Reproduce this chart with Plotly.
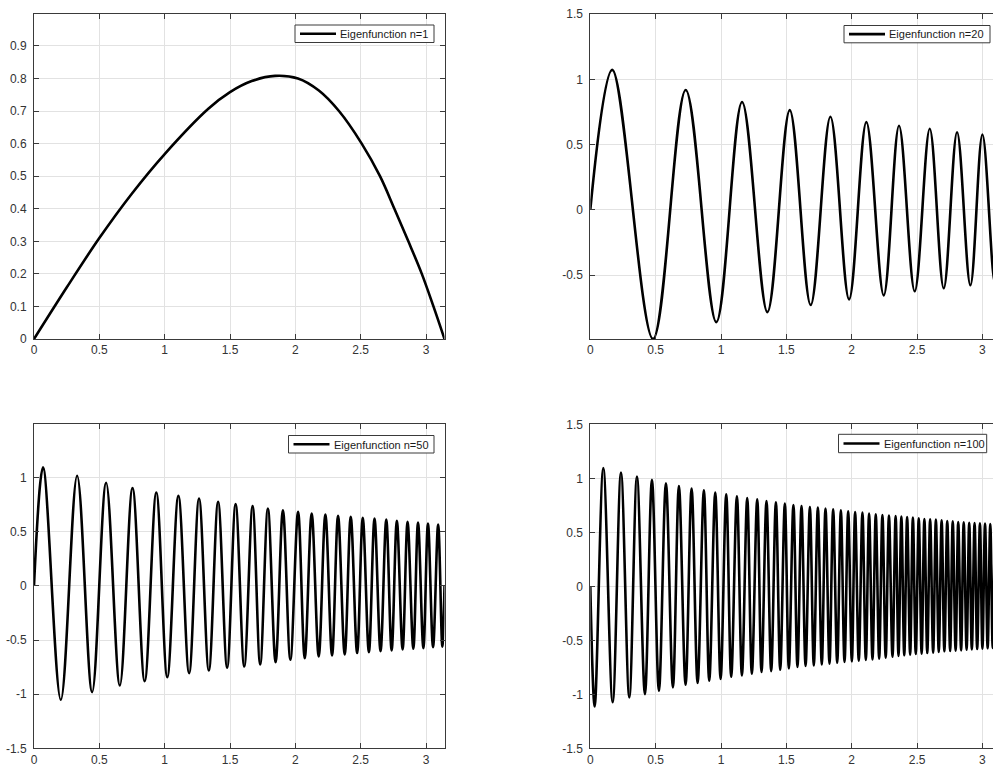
import plotly.graph_objects as go

W, H = 993, 767

# ---- data (points on each curve: ends, peaks, troughs) ----
n1_x = [0, 0.25, 0.5, 0.75, 1.0, 1.334, 1.5, 1.666, 1.845, 2.02, 2.18, 2.334, 2.508, 2.648,
        2.758, 2.865, 2.968, 3.057, 3.1416]
n1_y = [0, 0.158, 0.31, 0.447, 0.568, 0.707, 0.758, 0.792, 0.808, 0.80, 0.763, 0.70, 0.60, 0.50,
        0.40, 0.30, 0.20, 0.10, 0]

n20_x = [0, 0.168, 0.480, 0.730, 0.964, 1.161, 1.355, 1.526, 1.686, 1.837, 1.980, 2.112,
         2.245, 2.362, 2.482, 2.597, 2.704, 2.806, 2.908, 3.000, 3.095, 3.1416]
n20_y = [0, 1.072, -0.988, 0.918, -0.859, 0.826, -0.782, 0.764, -0.728, 0.713, -0.685, 0.672,
         -0.654, 0.644, -0.623, 0.621, -0.600, 0.595, -0.577, 0.577, -0.560, 0]

n50_x = [0, 0.069, 0.205, 0.330, 0.445, 0.552, 0.657, 0.754, 0.847, 0.936, 1.020, 1.105,
         1.187, 1.263, 1.338, 1.409, 1.478, 1.543, 1.609, 1.673, 1.731, 1.790, 1.849, 1.905,
         1.962, 2.021, 2.072, 2.125, 2.179, 2.230, 2.281, 2.327, 2.378, 2.424, 2.473, 2.516,
         2.563, 2.606, 2.652, 2.696, 2.737, 2.777, 2.821, 2.859, 2.903, 2.939, 2.980, 3.015,
         3.054, 3.093, 3.125, 3.1416]
n50_y = [0, 1.096, -1.052, 1.019, -0.981, 0.954, -0.920, 0.904, -0.880, 0.864, -0.843, 0.833,
         -0.806, 0.809, -0.781, 0.778, -0.755, 0.756, -0.744, 0.738, -0.725, 0.716, -0.704, 0.700,
         -0.682, 0.685, -0.667, 0.670, -0.651, 0.660, -0.642, 0.648, -0.633, 0.639, -0.620, 0.630,
         -0.611, 0.623, -0.602, 0.614, -0.596, 0.602, -0.586, 0.593, -0.580, 0.586, -0.574, 0.577,
         -0.565, 0.568, -0.560, 0]

n100_x = [0, 0.0334, 0.0996, 0.171, 0.2347, 0.2984, 0.357, 0.418, 0.4717, 0.525, 0.5787,
          0.632, 0.678, 0.729, 0.775, 0.821, 0.869, 0.910, 0.956, 0.997, 1.040,
          1.078, 1.1216, 1.160, 1.2005, 1.236, 1.277, 1.310, 1.348, 1.384, 1.420,
          1.453, 1.4885, 1.519, 1.554, 1.585, 1.616, 1.647, 1.680, 1.710, 1.741,
          1.771, 1.7995, 1.830, 1.858, 1.889, 1.917, 1.945, 1.973, 2.001, 2.026,
          2.054, 2.082, 2.108, 2.133, 2.159, 2.184, 2.210, 2.235, 2.260, 2.285,
          2.312, 2.336, 2.358, 2.380, 2.402, 2.424, 2.447, 2.468, 2.490, 2.513,
          2.535, 2.556, 2.578, 2.600, 2.623, 2.644, 2.666, 2.688, 2.709, 2.731,
          2.753, 2.773, 2.795, 2.815, 2.837, 2.857, 2.879, 2.899, 2.919, 2.940,
          2.960, 2.981, 3.000, 3.020, 3.040, 3.060, 3.079, 3.098, 3.117, 3.132, 3.1416]
n100_y = [0, -1.113, 1.094, -1.073, 1.054, -1.030, 1.017, -0.998, 0.985, -0.967, 0.954,
          -0.937, 0.929, -0.912, 0.906, -0.896, 0.889, -0.875, 0.868, -0.859, 0.852,
          -0.838, 0.834, -0.825, 0.818, -0.810, 0.806, -0.794, 0.790, -0.785, 0.778,
          -0.773, 0.766, -0.760, 0.753, -0.747, 0.744, -0.738, 0.734, -0.732, 0.729,
          -0.723, 0.720, -0.717, 0.713, -0.708, 0.704, -0.701, 0.695, -0.695, 0.688,
          -0.689, 0.682, -0.682, 0.673, -0.677, 0.667, -0.670, 0.660, -0.660, 0.654,
          -0.652, 0.651, -0.645, 0.645, -0.639, 0.642, -0.633, 0.636, -0.627, 0.630,
          -0.624, 0.623, -0.618, 0.620, -0.615, 0.617, -0.608, 0.611, -0.602, 0.605,
          -0.599, 0.602, -0.596, 0.595, -0.593, 0.592, -0.587, 0.589, -0.584, 0.586,
          -0.581, 0.583, -0.577, 0.580, -0.574, 0.577, -0.571, 0.574, -0.568, 0.571, 0]

series_names = ["Eigenfunction n=1", "Eigenfunction n=20", "Eigenfunction n=50", "Eigenfunction n=100"]

x_tick_vals = [0, 0.5, 1, 1.5, 2, 2.5, 3]
x_tick_text = ["0", "0.5", "1", "1.5", "2", "2.5", "3"]
y1_tick_vals = [0, 0.1, 0.2, 0.3, 0.4, 0.5, 0.6, 0.7, 0.8, 0.9]
y1_tick_text = ["0", "0.1", "0.2", "0.3", "0.4", "0.5", "0.6", "0.7", "0.8", "0.9"]
y2_tick_vals = [-0.5, 0, 0.5, 1, 1.5]
y2_tick_text = ["-0.5", "0", "0.5", "1", "1.5"]
y3_tick_vals = [-1.5, -1, -0.5, 0, 0.5, 1]
y3_tick_text = ["-1.5", "-1", "-0.5", "0", "0.5", "1"]
y4_tick_vals = [-1.5, -1, -0.5, 0, 0.5, 1, 1.5]
y4_tick_text = ["-1.5", "-1", "-0.5", "0", "0.5", "1", "1.5"]

# ---- styling / layout ----
FONT = "Liberation Sans, Arial, Helvetica, sans-serif"
AXCOL = "#3a3a3a"
GRIDCOL = "#e2e2e2"
TXTCOL = "#333333"
LW = 2.6

def px_x(p):
    return p / W

def px_y(p):
    return 1 - p / H

fig = go.Figure()

data = [(n1_x, n1_y), (n20_x, n20_y), (n50_x, n50_y), (n100_x, n100_y)]
for i, ((xs, ys), name) in enumerate(zip(data, series_names)):
    k = i + 1
    fig.add_trace(go.Scatter(
        x=xs, y=ys, mode="lines", name=name,
        line=dict(color="black", width=LW, shape="spline", smoothing=1),
        xaxis="x" if k == 1 else f"x{k}",
        yaxis="y" if k == 1 else f"y{k}",
        showlegend=False,
    ))

left_dom = [px_x(34.0), px_x(444.5)]
right_dom = [px_x(590.3), 1.0]
top_dom = [px_y(339.0), px_y(14.0)]
bot_dom = [px_y(748.3), px_y(424.3)]

def xax(dom, rng, anchor):
    return dict(domain=dom, range=rng, anchor=anchor, tickvals=x_tick_vals, ticktext=x_tick_text,
                showline=True, linecolor=AXCOL, linewidth=1, mirror="ticks",
                ticks="inside", ticklen=5, tickcolor=AXCOL, tickwidth=1,
                showgrid=True, gridcolor=GRIDCOL, gridwidth=1, zeroline=False,
                tickfont=dict(family=FONT, size=12, color=TXTCOL), ticklabelstandoff=0,
                automargin=False, fixedrange=True)

def yax(dom, rng, anchor, tv, tt, mirror):
    return dict(domain=dom, range=rng, anchor=anchor, tickvals=tv, ticktext=tt,
                showline=True, linecolor=AXCOL, linewidth=1, mirror=mirror,
                ticks="inside", ticklen=5, tickcolor=AXCOL, tickwidth=1,
                showgrid=True, gridcolor=GRIDCOL, gridwidth=1, zeroline=False,
                tickfont=dict(family=FONT, size=12, color=TXTCOL), ticklabelstandoff=4,
                automargin=False, fixedrange=True)

# legend boxes (MATLAB style): left, right, top, bottom in pixels
legend_boxes = [(295.0, 434.0, 25.0, 42.5),
                (844.0, 990.0, 25.5, 42.8),
                (288.5, 434.0, 435.5, 453.0),
                (838.5, 986.7, 434.3, 452.7)]

shapes = []
annotations = []
for (l, r, t, b), name in zip(legend_boxes, series_names):
    mid = (t + b) / 2
    shapes.append(dict(type="rect", xref="paper", yref="paper",
                       x0=px_x(l), x1=px_x(r), y0=px_y(b), y1=px_y(t),
                       fillcolor="white", line=dict(color=AXCOL, width=1), layer="above"))
    shapes.append(dict(type="line", xref="paper", yref="paper",
                       x0=px_x(l + 5), x1=px_x(l + 41), y0=px_y(mid), y1=px_y(mid),
                       line=dict(color="black", width=LW), layer="above"))
    annotations.append(dict(text=name, xref="paper", yref="paper",
                            x=px_x(l + 43), y=px_y(mid + 0.3), xanchor="left", yanchor="middle",
                            showarrow=False, font=dict(family=FONT, size=11, color="#1a1a1a")))

fig.update_layout(
    template="none",
    width=W, height=H,
    margin=dict(l=0, r=0, t=0, b=0, pad=0, autoexpand=False),
    paper_bgcolor="white", plot_bgcolor="white",
    xaxis=xax(left_dom, [0, 3.1416], "y"),
    yaxis=yax(top_dom, [0, 0.998], "x", y1_tick_vals, y1_tick_text, "ticks"),
    xaxis2=xax(right_dom, [0, 3.081], "y2"),
    yaxis2=yax(top_dom, [-0.988, 1.5], "x2", y2_tick_vals, y2_tick_text, False),
    xaxis3=xax(left_dom, [0, 3.1416], "y3"),
    yaxis3=yax(bot_dom, [-1.5, 1.494], "x3", y3_tick_vals, y3_tick_text, "ticks"),
    xaxis4=xax(right_dom, [0, 3.081], "y4"),
    yaxis4=yax(bot_dom, [-1.5, 1.5], "x4", y4_tick_vals, y4_tick_text, False),
    shapes=shapes,
    annotations=annotations,
    showlegend=False,
)

fig.write_html(
    "out.html",
    config={"displayModeBar": False, "responsive": False},
    post_script="document.body.style.margin='0';document.body.style.overflow='hidden';"
                "document.documentElement.style.overflow='hidden';",
)
